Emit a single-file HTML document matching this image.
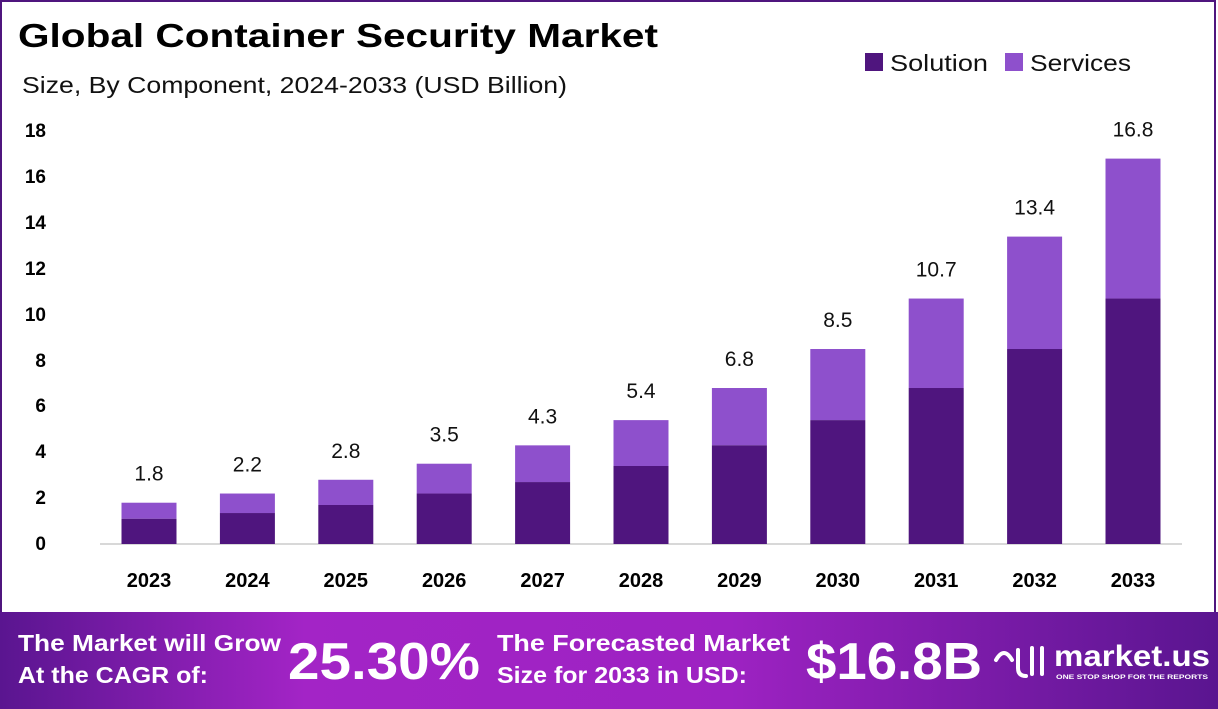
<!DOCTYPE html>
<html><head><meta charset="utf-8"><style>
html,body{margin:0;padding:0;background:#fff}
svg{display:block}
text{font-family:"Liberation Sans",sans-serif}
</style></head><body>
<svg width="1218" height="709" viewBox="0 0 1218 709" xmlns="http://www.w3.org/2000/svg">
<defs>
<linearGradient id="bn" x1="0" y1="0" x2="1" y2="0">
<stop offset="0" stop-color="#5a1590"/>
<stop offset="0.25" stop-color="#a324c6"/>
<stop offset="0.6" stop-color="#9d22c2"/>
<stop offset="1" stop-color="#5a1590"/>
</linearGradient>
</defs>
<rect x="1" y="1" width="1214" height="706" fill="#fff" stroke="#4f157e" stroke-width="2"/>
<text x="18" y="47" font-size="33" font-weight="bold" fill="#000" textLength="640" lengthAdjust="spacingAndGlyphs">Global Container Security Market</text>
<text x="22" y="93" font-size="23" fill="#111" textLength="545" lengthAdjust="spacingAndGlyphs">Size, By Component, 2024-2033 (USD Billion)</text>
<rect x="865" y="53" width="18" height="18" fill="#4f157e"/>
<text x="890" y="71" font-size="23" fill="#111" textLength="98" lengthAdjust="spacingAndGlyphs">Solution</text>
<rect x="1005" y="53" width="18" height="18" fill="#8e50cc"/>
<text x="1030" y="71" font-size="23" fill="#111" textLength="101" lengthAdjust="spacingAndGlyphs">Services</text>
<g font-size="19" font-weight="bold" fill="#000" text-anchor="end">
<text x="46" y="550">0</text><text x="46" y="504">2</text><text x="46" y="458">4</text><text x="46" y="412">6</text><text x="46" y="367">8</text><text x="46" y="321">10</text><text x="46" y="275">12</text><text x="46" y="229">14</text><text x="46" y="183">16</text><text x="46" y="137">18</text>
</g>
<line x1="100" y1="544" x2="1182" y2="544" stroke="#ccc" stroke-width="1.5"/>
<g id="bars"></g>
<g font-size="20" font-weight="bold" fill="#000" text-anchor="middle" id="xl"></g>
<g font-size="21" fill="#111" text-anchor="middle" id="vl"></g>
<rect x="0" y="612" width="1218" height="97" fill="url(#bn)"/>
<g fill="#fff" font-weight="bold">
<text x="18" y="651" font-size="23" textLength="263" lengthAdjust="spacingAndGlyphs">The Market will Grow</text>
<text x="18" y="683" font-size="23" textLength="190" lengthAdjust="spacingAndGlyphs">At the CAGR of:</text>
<text x="288" y="679" font-size="52" textLength="192" lengthAdjust="spacingAndGlyphs">25.30%</text>
<text x="497" y="651" font-size="23" textLength="293" lengthAdjust="spacingAndGlyphs">The Forecasted Market</text>
<text x="497" y="683" font-size="23" textLength="250" lengthAdjust="spacingAndGlyphs">Size for 2033 in USD:</text>
<text x="806" y="679" font-size="52" textLength="176" lengthAdjust="spacingAndGlyphs">$16.8B</text>
<text x="1054" y="666" font-size="30" textLength="156" lengthAdjust="spacingAndGlyphs">market.us</text>
<text x="1056" y="679" font-size="6.5" textLength="152" lengthAdjust="spacingAndGlyphs">ONE STOP SHOP FOR THE REPORTS</text>
</g>
<path d="M996 660 q8 -14 16 0 M1018 650 v18 q0 8 8 8 M1032 648 v26 M1042 648 v26" stroke="#fff" stroke-width="4" fill="none" stroke-linecap="round"/>
</svg>
<script>
var tot=[1.8,2.2,2.8,3.5,4.3,5.4,6.8,8.5,10.7,13.4,16.8],sol=[1.1,1.35,1.7,2.2,2.7,3.4,4.3,5.4,6.8,8.5,10.7];
var ns="http://www.w3.org/2000/svg",b=document.getElementById("bars"),xl=document.getElementById("xl"),vl=document.getElementById("vl");
var y0=544,u=22.94;
function el(t,a,p,tx){var e=document.createElementNS(ns,t);for(var k in a)e.setAttribute(k,a[k]);if(tx)e.textContent=tx;p.appendChild(e);}
for(var i=0;i<11;i++){var c=149+i*98.4,x=c-27.5;
var ht=tot[i]*u,hs=sol[i]*u;
el("rect",{x:x,y:y0-ht,width:55,height:ht-hs,fill:"#8e50cc"},b);
el("rect",{x:x,y:y0-hs,width:55,height:hs,fill:"#4f157e"},b);
el("text",{x:c,y:587},xl,String(2023+i));
el("text",{x:c,y:y0-ht-22},vl,String(tot[i]));}
</script>
</body></html>
